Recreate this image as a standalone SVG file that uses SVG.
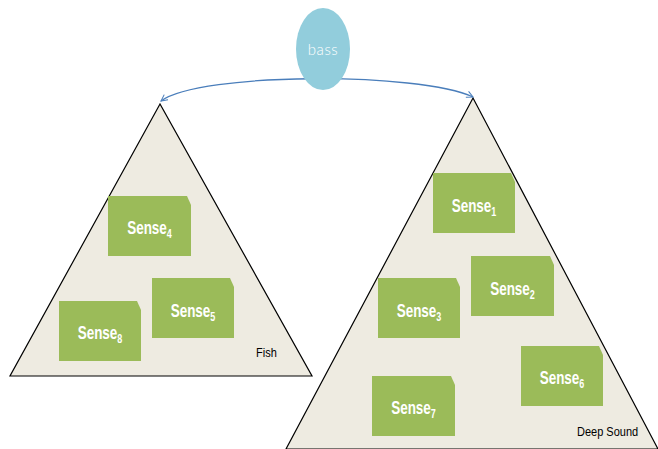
<svg xmlns="http://www.w3.org/2000/svg" width="658" height="449" viewBox="0 0 658 449">
<style>
.tri{fill:#EEEBE1;stroke:#000;stroke-width:1.2}
.box{fill:#9BBB59}
.lbl{font-family:"Liberation Sans",Arial,sans-serif;font-weight:bold;font-size:18px;fill:#fff}
.sub{font-size:12px}
.cap{font-family:"Liberation Sans",Arial,sans-serif;font-size:12.5px;fill:#000}
.conn{fill:none;stroke:#4A7EBB;stroke-width:1.3}
</style>
<defs>
<marker id="arr" viewBox="0 0 10 10" refX="9" refY="5" markerWidth="8" markerHeight="8" markerUnits="userSpaceOnUse" orient="auto-start-reverse">
<path d="M1,1 L9,5 L1,9" fill="none" stroke="#4A7EBB" stroke-width="1.3"/>
</marker>
</defs>
<g id="fish-tri"><polygon class="tri" points="160,104 10,376 312,376"/></g>
<g id="deep-tri"><polygon class="tri" points="473,98 286,449 658,449"/></g>
<g id="connectors">
<path class="conn" d="M161,101 C200,72 420,72 473,97" marker-start="url(#arr)" marker-end="url(#arr)"/>
</g>
<g id="bass">
<ellipse cx="323" cy="49" rx="27" ry="41" fill="#92CDDC"/>
<text x="323" y="55" text-anchor="middle" font-family="Lato, 'Open Sans', sans-serif" font-weight="300" font-size="15" letter-spacing="0.5" fill="#fff">bass</text>
</g>
<g id="sense4"><path class="box" d="M108,196 H187 L191,205 V256 H108 Z"/>
<text class="lbl" transform="translate(149.5,234) scale(0.75,1)" text-anchor="middle">Sense<tspan class="sub" dy="4">4</tspan></text></g>
<g id="sense5"><path class="box" d="M152,278 H230 L234,287 V338 H152 Z"/>
<text class="lbl" transform="translate(193,317) scale(0.75,1)" text-anchor="middle">Sense<tspan class="sub" dy="4">5</tspan></text></g>
<g id="sense8"><path class="box" d="M59,301 H137 L141,310 V361 H59 Z"/>
<text class="lbl" transform="translate(100,339) scale(0.75,1)" text-anchor="middle">Sense<tspan class="sub" dy="4">8</tspan></text></g>
<g id="fish-label"><text class="cap" transform="translate(256,357) scale(0.88,1)">Fish</text></g>
<g id="sense1"><path class="box" d="M433,173 H511 L515,182 V233 H433 Z"/>
<text class="lbl" transform="translate(474,212) scale(0.75,1)" text-anchor="middle">Sense<tspan class="sub" dy="4">1</tspan></text></g>
<g id="sense2"><path class="box" d="M471,256 H550 L554,265 V316 H471 Z"/>
<text class="lbl" transform="translate(512.5,295) scale(0.75,1)" text-anchor="middle">Sense<tspan class="sub" dy="4">2</tspan></text></g>
<g id="sense3"><path class="box" d="M378,278 H456 L460,287 V338 H378 Z"/>
<text class="lbl" transform="translate(419,317) scale(0.75,1)" text-anchor="middle">Sense<tspan class="sub" dy="4">3</tspan></text></g>
<g id="sense6"><path class="box" d="M521,346 H599 L603,355 V406 H521 Z"/>
<text class="lbl" transform="translate(562,384) scale(0.75,1)" text-anchor="middle">Sense<tspan class="sub" dy="4">6</tspan></text></g>
<g id="sense7"><path class="box" d="M372,376 H451 L455,385 V436 H372 Z"/>
<text class="lbl" transform="translate(413.5,414) scale(0.75,1)" text-anchor="middle">Sense<tspan class="sub" dy="4">7</tspan></text></g>
<g id="deep-label"><text class="cap" transform="translate(577,436) scale(0.88,1)">Deep Sound</text></g>
</svg>
